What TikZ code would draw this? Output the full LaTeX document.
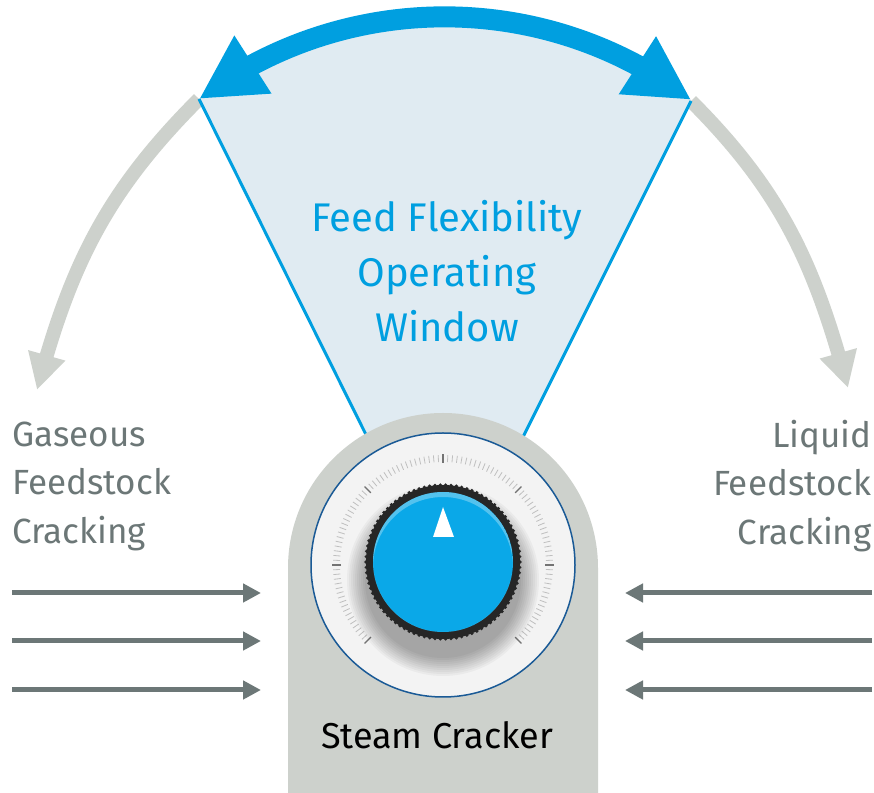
\documentclass[tikz,border=0pt]{standalone}
\usepackage{fontspec}
\setmainfont{Fira Sans}
\usetikzlibrary{arrows.meta,bending}

\definecolor{flexblue}{HTML}{009FE0}
\definecolor{fanfill}{HTML}{E0EBF2}
\definecolor{lightgrey}{HTML}{CDD1CC}
\definecolor{darkgrey}{HTML}{6C7777}
\definecolor{knobblue}{HTML}{0AA8E8}
\definecolor{dialblue}{HTML}{1A5A96}
\definecolor{dialfill}{HTML}{F3F3F3}

\begin{document}
\begin{tikzpicture}[x=0.5pt,y=0.5pt,
    swing/.style={line width=7pt, lightgrey, -{Triangle[length=18pt,width=18pt]}},
    flex/.style={line width=10.5pt, flexblue, {Triangle[length=32pt,width=32pt]}-{Triangle[length=32pt,width=32pt]}},
    feed/.style={line width=2.5pt, darkgrey, -{Triangle[length=9pt,width=9pt]}},
    side/.style={darkgrey, font=\fontsize{17.5}{24.25}\selectfont, inner sep=0pt}]
  \useasboundingbox (0,0) rectangle (874,793);
  \fill[white] (0,0) rectangle (874,793);
  \coordinate (tipL) at (199,694);
  \coordinate (tipR) at (691,692);
  \coordinate (gasend) at (37,403);
  \coordinate (liqend) at (848,405);
  \draw[swing] (tipL) to[out=225,in=75] (gasend);
  \draw[swing] (tipR) to[out=-45,in=105] (liqend);
  \fill[fanfill] (tipL) arc[start angle=127, end angle=52.8, radius=408] -- (490,290) -- (400,290) -- cycle;
  \draw[flexblue, line width=1.5pt] (tipL) -- (400,290) (tipR) -- (490,290);
  \draw[flex] (tipL) arc[start angle=127, end angle=52.8, radius=408];
  \node[flexblue, font=\fontsize{20}{27.5}\selectfont, align=center, inner sep=0pt] (window) at (447,522) {Feed Flexibility\\Operating\\Window};
  \node[side, align=left, anchor=west] (gas) at (12,307) {Gaseous\\Feedstock\\Cracking};
  \node[side, align=right, anchor=east] (liquid) at (872,307) {Liquid\\Feedstock\\Cracking};
  \fill[lightgrey] (288,0) -- (288,225) arc[start angle=180, end angle=0, radius=155] -- (598,0) -- cycle;
  \draw[dialblue, line width=0.75pt, fill=dialfill] (443,228) circle[radius=132];
  \foreach \a in {-45,-42.5,...,225}
    \draw[black!25, line width=0.4pt, shift={(443,228)}] (\a:103) -- (\a:110);
  \foreach \a in {-45,0,...,225}
    \draw[black!55, line width=0.6pt, shift={(443,228)}] (\a:102) -- (\a:111);
  \foreach \r in {96,94,...,78}
    \fill[black, opacity=0.035] (443,213) circle[radius=\r];
  \fill[black!85] (443,231) circle[radius=77];
  \foreach \a in {0,4,...,356}
    \fill[black!85] ([shift={(443,231)}]\a:77) circle[radius=1.8];
  \fill[knobblue] (443,231) circle[radius=70];
  \begin{scope}
    \clip (443,231) circle[radius=70];
    \fill[white, opacity=0.3, even odd rule] (443,231) circle[radius=70] (443,226) circle[radius=70];
  \end{scope}
  \fill[white] (443,286) -- (433,256) -- (454,256) -- cycle;
  \node[font=\fontsize{18}{20}\selectfont, inner sep=0pt] (cracker) at (437,58) {Steam Cracker};
  \foreach \y [count=\i] in {200,152,103} {
    \coordinate (gasin\i) at (12,\y);
    \coordinate (gasout\i) at (261,\y);
    \coordinate (liqin\i) at (872,\y);
    \coordinate (liqout\i) at (625,\y);
    \draw[feed] (gasin\i) -- (gasout\i);
    \draw[feed] (liqin\i) -- (liqout\i);
  }
\end{tikzpicture}
\end{document}
